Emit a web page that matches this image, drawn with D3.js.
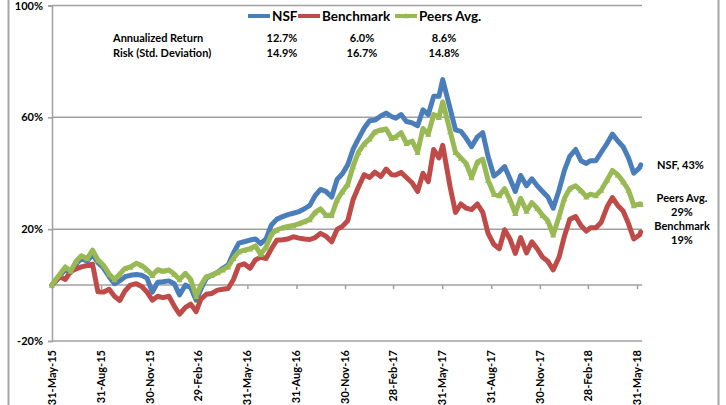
<!DOCTYPE html>
<html>
<head>
<meta charset="utf-8">
<script src="https://cdn.jsdelivr.net/npm/d3@7"></script>
<style>
  body { margin: 0; background: #fff; }
  svg { display: block; font-family: Lato, "Liberation Sans", sans-serif; font-weight: bold; }
</style>
</head>
<body>
<svg id="chart"></svg>
<script>
// categories (dates) and series values (% cumulative return)
const dates = ['2015-05-31',
  '2015-06-05','2015-06-15','2015-06-25','2015-07-05','2015-07-15','2015-07-25',
  '2015-08-05','2015-08-15','2015-08-25','2015-09-05','2015-09-15','2015-09-25',
  '2015-10-05','2015-10-15','2015-10-25','2015-11-05','2015-11-15','2015-11-25',
  '2015-12-05','2015-12-15','2015-12-25','2016-01-05','2016-01-15','2016-01-25',
  '2016-02-05','2016-02-15','2016-02-25','2016-03-05','2016-03-15','2016-03-25',
  '2016-04-05','2016-04-15','2016-04-25','2016-05-05','2016-05-15','2016-05-25',
  '2016-06-05','2016-06-15','2016-06-25','2016-07-05','2016-07-15','2016-07-25',
  '2016-08-05','2016-08-15','2016-08-25','2016-09-05','2016-09-15','2016-09-25',
  '2016-10-05','2016-10-15','2016-10-25','2016-11-05','2016-11-15','2016-11-25',
  '2016-12-05','2016-12-15','2016-12-25','2017-01-05','2017-01-15','2017-01-25',
  '2017-02-05','2017-02-15','2017-02-25','2017-03-05','2017-03-15','2017-03-25',
  '2017-04-05','2017-04-15','2017-04-25','2017-05-05','2017-05-15','2017-05-25',
  '2017-06-01','2017-06-15','2017-06-25','2017-07-05','2017-07-15','2017-07-25',
  '2017-08-05','2017-08-15','2017-08-25','2017-09-05','2017-09-15','2017-09-25',
  '2017-10-05','2017-10-15','2017-10-25','2017-11-05','2017-11-15','2017-11-25',
  '2017-12-05','2017-12-15','2017-12-25','2018-01-05','2018-01-15','2018-01-25',
  '2018-02-05','2018-02-15','2018-02-25','2018-03-05','2018-03-15','2018-03-25',
  '2018-04-05','2018-04-15','2018-04-25','2018-05-05','2018-05-15','2018-05-25',
  '2018-06-05','2018-06-07'];

const nsf = [0,
  1.0, 3.5, 5.5, 4.5, 7.5, 9.5,
  8.5, 11.0, 8.0, 6.0, 3.0, 0.5,
  1.5, 3.0, 3.5, 3.8, 3.5, 2.5,
  -2.5, 1.0, 1.2, 1.5, 0.5, -3.5,
  0.0, -1.0, -5.4, -1.5, 2.5, 3.5,
  4.5, 6.0, 7.2, 11.5, 15.0, 15.5,
  16.1, 16.5, 14.8, 16.5, 21.5, 23.5,
  24.5, 25.2, 25.7, 26.3, 27.3, 28.5,
  32.0, 34.2, 33.5, 31.5, 37.8, 39.8,
  43.0, 48.5, 52.3, 56.2, 58.8, 59.0,
  60.5, 61.5, 60.3, 59.7, 61.0, 58.5,
  58.0, 57.0, 62.7, 61.0, 67.5, 67.5,
  73.5, 63.0, 55.5, 55.0, 52.5, 49.5,
  53.0, 54.5, 46.0, 39.0, 40.5, 42.4,
  38.0, 33.5, 39.2, 35.5, 38.0, 35.5,
  33.5, 31.5, 27.5, 34.0, 41.0, 46.0,
  48.5, 44.5, 43.5, 44.5, 44.5, 47.5,
  50.7, 54.0, 51.5, 49.5, 45.5, 40.0,
  42.0, 43.0];

const benchmark = [0,
  1.0, 3.0, 2.0, 5.0, 5.8, 6.5,
  7.0, 7.5, -2.4, -2.5, -1.5, -4.0,
  -5.5, -2.0, 0.0, 0.5, -0.5, -2.5,
  -5.4, -4.0, -4.5, -4.0, -7.5, -10.4,
  -8.0, -6.8, -9.5, -5.0, -3.3, -3.0,
  -1.8, -1.5, -1.2, 2.0, 7.0, 7.6,
  6.0, 9.0, 10.0, 9.5, 13.0, 16.0,
  16.2, 16.5, 17.3, 16.8, 16.5, 16.3,
  17.0, 18.5, 17.5, 15.5, 19.9, 21.0,
  23.0, 30.5, 35.0, 39.5, 38.5, 40.4,
  38.8, 41.5, 39.5, 39.4, 40.3, 38.5,
  36.5, 33.5, 40.0, 37.0, 48.5, 45.5,
  50.0, 35.0, 26.0, 29.0, 27.5, 27.0,
  29.0, 26.0, 18.5, 14.5, 13.0, 19.8,
  16.5, 11.3, 17.0, 11.5, 15.5, 13.0,
  10.0, 8.5, 5.4, 10.0, 17.5, 23.5,
  24.5, 21.3, 19.3, 20.5, 20.5, 22.5,
  28.0, 31.3, 28.5, 26.5, 22.0, 16.5,
  18.0, 19.0];

const peers = [0,
  1.5, 4.0, 6.5, 5.0, 8.5, 10.5,
  9.5, 12.5, 9.0, 7.0, 4.0, 2.0,
  4.0, 6.0, 6.5, 7.8, 7.0, 5.5,
  3.5, 5.5, 5.0, 5.4, 4.0, 2.0,
  4.2, 2.0, -4.0, 0.0, 3.0, 3.5,
  4.5, 5.5, 6.6, 9.6, 11.9, 12.5,
  13.0, 14.0, 11.0, 13.5, 18.2, 19.7,
  20.5, 21.0, 21.3, 22.0, 22.7, 23.5,
  26.0, 27.3, 25.0, 25.0, 30.4, 33.4,
  36.0, 42.5, 47.5, 50.5, 52.3, 54.8,
  55.5, 55.8, 52.5, 53.0, 54.5, 50.7,
  51.5, 47.5, 56.0, 54.0, 61.0, 60.0,
  65.5, 55.0, 47.5, 45.5, 43.5, 38.5,
  44.0, 45.0, 37.5, 32.5, 32.0, 34.5,
  30.5, 25.7, 31.0, 26.5, 29.5, 27.5,
  25.0, 23.0, 18.0, 24.5, 31.0, 34.5,
  35.5, 33.8, 31.6, 32.5, 32.0, 34.0,
  37.6, 41.0, 39.5, 37.0, 34.0, 28.5,
  29.0, 29.0];

const seriesNames = ['NSF', 'Benchmark', 'Peers Avg.'];
const seriesColors = ['#4a7ebb', '#be4b48', '#98b954'];
const statLabels = ['Annualized Return', 'Risk (Std. Deviation)'];
const annReturn = ['12.7%', '6.0%', '8.6%'];
const stdDev = ['14.9%', '16.7%', '14.8%'];
const yTicks = [-20, 20, 60, 100];
const xTicks = ['2015-05-31','2015-08-31','2015-11-30','2016-02-29','2016-05-31','2016-08-31',
  '2016-11-30','2017-02-28','2017-05-31','2017-08-31','2017-11-30','2018-02-28','2018-05-31'];

const W = 726, H = 405;
const plotLeft = 52, plotRight = 642, plotTop = 5.5, plotBottom = 341;
const parse = d3.timeParse('%Y-%m-%d');

const svg = d3.select('#chart').attr('width', W).attr('height', H);

// spreadsheet frame lines
svg.append('line').attr('x1', 8.5).attr('x2', 8.5).attr('y1', 0).attr('y2', H)
  .attr('stroke', '#a6a6a6').attr('stroke-width', 2);
svg.append('line').attr('x1', 718.5).attr('x2', 718.5).attr('y1', 0).attr('y2', H)
  .attr('stroke', '#a6a6a6').attr('stroke-width', 2);

const xscale = d3.scaleTime()
  .domain([parse('2015-05-31'), parse('2018-05-31')])
  .range([plotLeft, 637]);
const yscale = d3.scaleLinear().domain([-20, 100]).range([plotBottom, plotTop]);

// gridlines
svg.append('g').selectAll('line').data(yTicks).join('line')
  .attr('x1', plotLeft).attr('x2', plotRight)
  .attr('y1', d => yscale(d)).attr('y2', d => yscale(d))
  .attr('stroke', '#a0a0a0').attr('stroke-width', 1.5);

// y axis
const yaxis = d3.axisLeft(yscale).tickValues(yTicks).tickSize(4).tickFormat(d => d + '%');
const yg = svg.append('g').attr('transform', `translate(${plotLeft},0)`).call(yaxis);
yg.attr('font-family', null).attr('font-size', null);
yg.select('.domain').attr('stroke', '#a0a0a0').attr('stroke-width', 1.5);
yg.selectAll('.tick line').attr('stroke', '#a0a0a0').attr('stroke-width', 1.5);
yg.selectAll('.tick text').attr('x', -9).attr('font-size', 11).attr('fill', '#000');

// x axis on zero line
const xdates = xTicks.map(parse);
const xaxis = d3.axisBottom(xscale).tickValues(xdates).tickSize(4).tickFormat('');
const xg = svg.append('g').attr('transform', `translate(0,${yscale(0)})`).call(xaxis);
xg.select('.domain').attr('d', `M${plotLeft},0H${plotRight}`).attr('stroke', '#a0a0a0').attr('stroke-width', 1.5);
xg.selectAll('.tick line').attr('stroke', '#a0a0a0').attr('stroke-width', 1.5);

// rotated date labels at the bottom
const fmt = d3.timeFormat('%d-%b-%y');
svg.append('g').selectAll('text').data(xdates).join('text')
  .attr('transform', d => `translate(${xscale(d) + 4},350) rotate(-90)`)
  .attr('text-anchor', 'end')
  .attr('font-size', 11)
  .text(d => fmt(d));

// lines
const series = [nsf, benchmark, peers];
const line = d3.line()
  .x((d, i) => xscale(parse(dates[i])))
  .y(d => yscale(d));
series.forEach((s, k) => {
  svg.append('path')
    .attr('d', line(s))
    .attr('fill', 'none')
    .attr('stroke', seriesColors[k])
    .attr('stroke-width', 5)
    .attr('stroke-linejoin', 'round')
    .attr('stroke-linecap', 'round');
});

// small triangle markers on the peers series
const tri = d3.symbol().type(d3.symbolTriangle).size(16);
svg.append('g').selectAll('path').data(peers).join('path')
  .attr('transform', (d, i) => `translate(${xscale(parse(dates[i]))},${yscale(d) + 1})`)
  .attr('d', tri)
  .attr('fill', seriesColors[2]);

// legend
const legendX = [248, 298, 395];
const lg = svg.append('g');
seriesNames.forEach((n, k) => {
  lg.append('line').attr('x1', legendX[k]).attr('x2', legendX[k] + 22)
    .attr('y1', 16).attr('y2', 16)
    .attr('stroke', seriesColors[k]).attr('stroke-width', 4);
  lg.append('text').attr('x', legendX[k] + 24).attr('y', 21)
    .attr('font-size', 13.5).text(n);
});
lg.append('path').attr('transform', `translate(${legendX[2] + 11},16.5)`)
  .attr('d', tri).attr('fill', seriesColors[2]);

// stats table
const colX = [282, 362, 444];
const rowY = [42, 57];
[annReturn, stdDev].forEach((row, r) => {
  svg.append('text').attr('x', 113).attr('y', rowY[r]).attr('font-size', 11).text(statLabels[r]);
  row.forEach((v, c) => {
    svg.append('text').attr('x', colX[c]).attr('y', rowY[r]).attr('text-anchor', 'middle')
      .attr('font-size', 11).text(v);
  });
});

// end labels
const endLabels = [
  { text: 'NSF, 43%', x: 657, y: 169, anchor: 'start' },
  { text: 'Peers Avg.', x: 682, y: 202, anchor: 'middle' },
  { text: '29%', x: 682, y: 216, anchor: 'middle' },
  { text: 'Benchmark', x: 682, y: 230, anchor: 'middle' },
  { text: '19%', x: 682, y: 244, anchor: 'middle' }
];
svg.append('g').selectAll('text').data(endLabels).join('text')
  .attr('x', d => d.x).attr('y', d => d.y).attr('text-anchor', d => d.anchor)
  .attr('font-size', 11).text(d => d.text);
</script>
</body>
</html>
